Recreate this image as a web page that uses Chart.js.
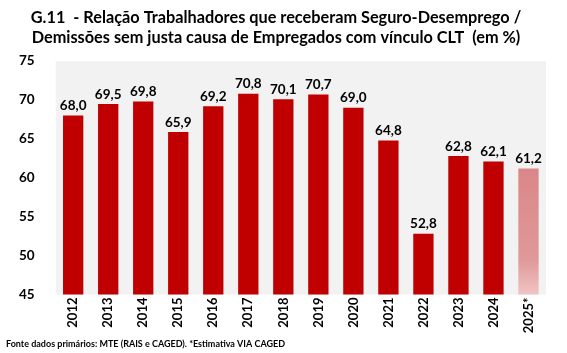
<!DOCTYPE html>
<html><head><meta charset="utf-8">
<script src="https://cdn.jsdelivr.net/npm/chart.js@4"></script>
<style>html,body{margin:0;padding:0;background:#fff}#wrap{width:567px;height:353px}</style>
</head><body><div id="wrap"><canvas id="c"></canvas></div>
<script>
const categories = ['2012','2013','2014','2015','2016','2017','2018','2019','2020','2021','2022','2023','2024','2025*'];
const values = [68.0,69.5,69.8,65.9,69.2,70.8,70.1,70.7,69.0,64.8,52.8,62.8,62.1,61.2];
const estimateIndex = 13;
const titleLines = ['G.11  - Relação Trabalhadores que receberam Seguro-Desemprego /','Demissões sem justa causa de Empregados com vínculo CLT  (em %)'];
const footer = 'Fonte dados primários: MTE (RAIS e CAGED). *Estimativa VIA CAGED';
const FONT = 'Lato, "Open Sans", sans-serif';

const bgPlugin = {id:'bg', beforeDraw(chart){const {ctx,chartArea:a}=chart;ctx.save();ctx.fillStyle='#f2f2f2';ctx.fillRect(a.left,a.top,a.right-a.left,a.bottom-a.top);ctx.restore();}};
const labelPlugin = {id:'lbl', afterDatasetsDraw(chart){const {ctx}=chart;const meta=chart.getDatasetMeta(0);ctx.save();ctx.font='bold 13.5px '+FONT;ctx.fillStyle='#000';ctx.textAlign='center';ctx.textBaseline='bottom';meta.data.forEach((b,i)=>{ctx.fillText(values[i].toFixed(1).replace('.',','),b.x,b.y-3);});ctx.restore();}};

new Chart(document.getElementById('c'),{
 type:'bar',
 data:{labels:categories,datasets:[{data:values,
   backgroundColor(ctx){
     if(ctx.dataIndex!==estimateIndex) return '#c00000';
     const ch=ctx.chart, a=ch.chartArea; if(!a) return '#c00000';
     const el=ch.getDatasetMeta(0).data[ctx.dataIndex];
     const top = el && isFinite(el.y) ? el.y : a.top;
     const g=ch.ctx.createLinearGradient(0,top,0,a.bottom);
     g.addColorStop(0,'#c2262a');g.addColorStop(0.4,'#d98486');g.addColorStop(0.85,'#e09898');g.addColorStop(1,'#f0c4c4');
     return g;
   },
   borderWidth:0,categoryPercentage:1,barPercentage:0.58}]},
 options:{responsive:true,maintainAspectRatio:false,animation:false,
  layout:{padding:{left:6,right:21,top:0,bottom:0}},
  plugins:{legend:{display:false},tooltip:{enabled:false},
   title:{display:true,text:titleLines,color:'#000',font:{family:FONT,size:16.3,weight:'bold',lineHeight:1.2},padding:{top:8,bottom:14}},
   subtitle:{display:true,position:'bottom',align:'start',text:footer,color:'#000',font:{family:FONT,size:9,weight:'bold'},padding:{top:2,bottom:4}}},
  scales:{
   x:{grid:{display:false,drawTicks:false},border:{display:false},ticks:{color:'#000',font:{family:FONT,size:13,weight:'bold'},minRotation:90,maxRotation:90,padding:3}},
   y:{min:45,max:75,grid:{display:false},border:{display:false},ticks:{stepSize:5,color:'#000',font:{family:FONT,size:13.5,weight:'bold'},padding:13}}
  }}
 ,plugins:[bgPlugin,labelPlugin]});
</script></body></html>
